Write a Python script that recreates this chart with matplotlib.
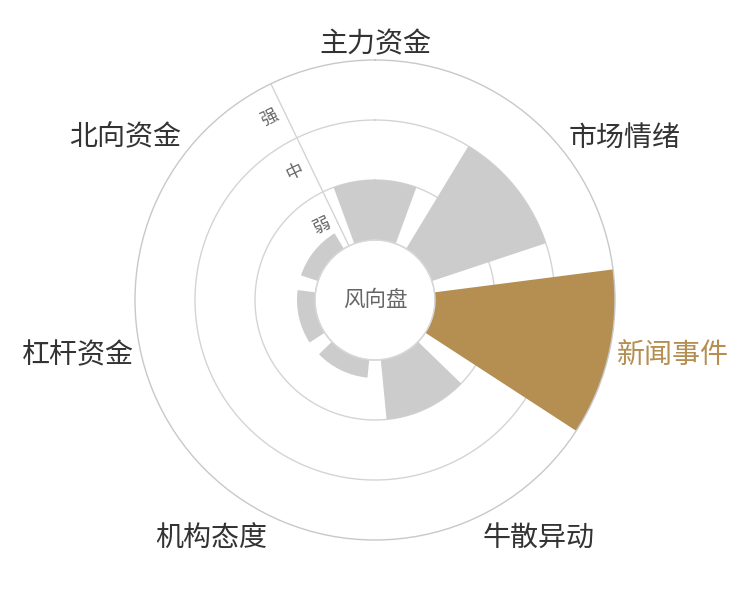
import numpy as np
import matplotlib
matplotlib.use("Agg")
from matplotlib import pyplot as plt
from matplotlib.transforms import offset_copy

plt.rcParams['font.family'] = ['Noto Sans CJK SC', 'DejaVu Sans']

# data
categories = ["主力资金", "市场情绪", "新闻事件", "牛散异动", "机构态度", "杠杆资金", "北向资金"]
values = [1, 2, 3, 1, 0.3, 0.3, 0.3]
levels = ["弱", "中", "强"]
highlight = "新闻事件"

GRAY = "#cccccc"
GOLD = "#b58f52"
LINE = "#d4d4d4"
HOLE = 1.0          # inner white hole, in level units

n = len(categories)
step = 2 * np.pi / n
theta = np.arange(n) * step

fig = plt.figure(figsize=(7.5, 6), dpi=100)
ax = fig.add_axes([135 / 750, 60 / 600, 480 / 750, 480 / 600], projection="polar")
ax.set_theta_zero_location("N")
ax.set_theta_direction(-1)
ax.set_ylim(0, HOLE + len(levels))
ax.grid(False)
ax.set_xticks([])
ax.set_yticks([])
ax.spines["polar"].set_color("#c8c8c8")
ax.spines["polar"].set_linewidth(1)

# ring lines
circ = np.linspace(0, 2 * np.pi, 400)
for r in range(1, len(levels) + 1):
    ax.plot(circ, np.full_like(circ, HOLE + r - 1), color=LINE, lw=1, zorder=1)

# radial axis line
ax.plot([-step / 2, -step / 2], [HOLE, HOLE + len(levels)], color=LINE, lw=1, zorder=1)

# bars
colors = [GOLD if c == highlight else GRAY for c in categories]
ax.bar(theta, values, width=step * 0.785, bottom=HOLE, color=colors,
       edgecolor="none", zorder=2)

# hole border
ax.plot(circ, np.full_like(circ, HOLE), color="#d8d8d8", lw=1, zorder=3)
ax.text(0, 0, "风向盘", ha="center", va="center", fontsize=15.5, color="#666666", zorder=4)

# level labels, shifted sideways from the radial line
shift = offset_copy(ax.transData, fig=fig, x=-15, y=-7, units="dots")
for i, lab in enumerate(levels):
    ax.text(-step / 2, HOLE + i + 0.5, lab, transform=shift, rotation=np.degrees(step / 2),
            ha="center", va="center", fontsize=12.5, color="#666666", rotation_mode="anchor")

# category labels
for t, c in zip(theta, categories):
    sx, sy = np.sin(t), np.cos(t)
    ha = "center" if abs(sx) <= 0.3 else ("left" if sx > 0 else "right")
    va = "center" if abs(sy) <= 0.3 else ("baseline" if sy > 0 else "top")
    ax.text(t, HOLE + len(levels) + 0.13, c, ha=ha, va=va, fontsize=20.2,
            color=GOLD if c == highlight else "#333333")

fig.savefig("out.png", dpi=100)
